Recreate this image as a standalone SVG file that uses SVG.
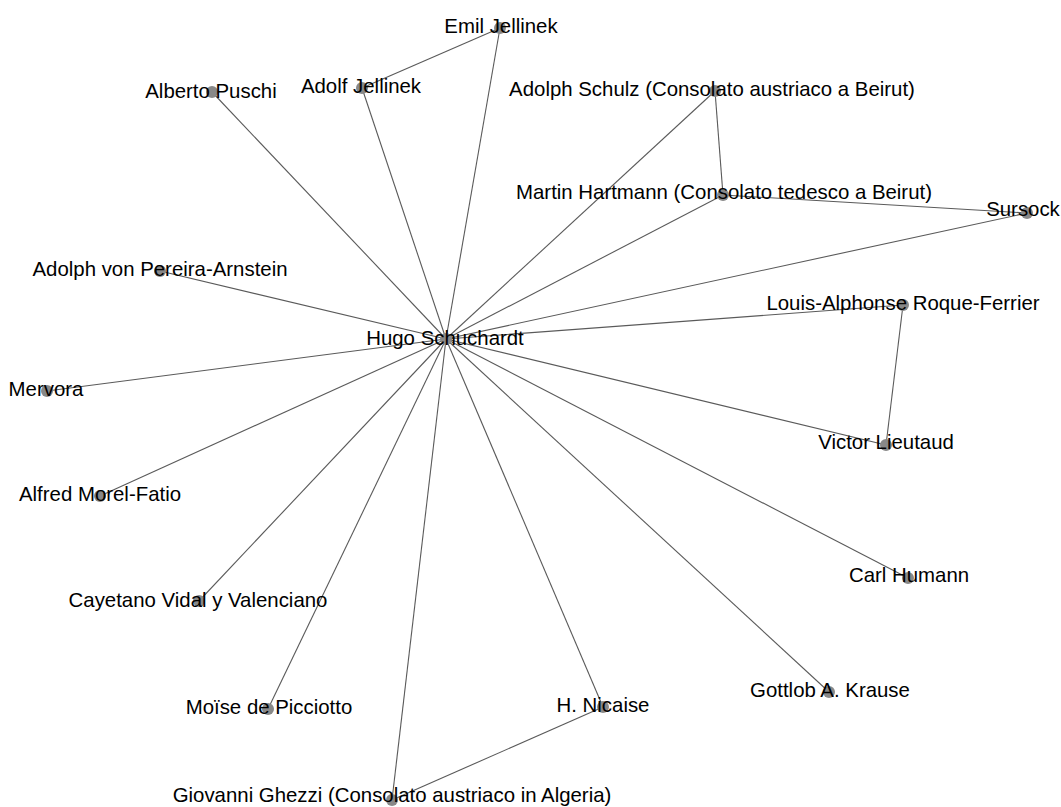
<svg xmlns="http://www.w3.org/2000/svg" width="1061" height="807" viewBox="0 0 1061 807">
<style>
.e{stroke:#5a5a5a;stroke-width:1.1;fill:none}
.n circle{fill:#888}
.n text{font-family:"Liberation Sans",Arial,sans-serif;font-size:20.4px;fill:#000;text-anchor:middle}
</style>
<rect width="1061" height="807" fill="#fff"/>
<g id="edges">
<line class="e" x1="446" y1="339" x2="500" y2="28"/>
<line class="e" x1="446" y1="339" x2="362" y2="88"/>
<line class="e" x1="446" y1="339" x2="212" y2="92"/>
<line class="e" x1="446" y1="339" x2="715" y2="91"/>
<line class="e" x1="446" y1="339" x2="723" y2="195"/>
<line class="e" x1="446" y1="339" x2="1027" y2="213"/>
<line class="e" x1="446" y1="339" x2="160" y2="271"/>
<line class="e" x1="446" y1="339" x2="903" y2="305"/>
<line class="e" x1="446" y1="339" x2="47" y2="391"/>
<line class="e" x1="446" y1="339" x2="886" y2="445"/>
<line class="e" x1="446" y1="339" x2="100" y2="496"/>
<line class="e" x1="446" y1="339" x2="199" y2="601"/>
<line class="e" x1="446" y1="339" x2="908" y2="578"/>
<line class="e" x1="446" y1="339" x2="268" y2="709"/>
<line class="e" x1="446" y1="339" x2="603" y2="707"/>
<line class="e" x1="446" y1="339" x2="829" y2="692"/>
<line class="e" x1="446" y1="339" x2="392" y2="800"/>
<line class="e" x1="500" y1="28" x2="362" y2="88"/>
<line class="e" x1="715" y1="91" x2="723" y2="195"/>
<line class="e" x1="723" y1="195" x2="1027" y2="213"/>
<line class="e" x1="903" y1="305" x2="886" y2="445"/>
<line class="e" x1="603" y1="707" x2="392" y2="800"/>
</g>
<g id="n-hugo" class="n"><circle cx="446" cy="339" r="6"/><text x="445" y="345">Hugo Schuchardt</text></g>
<g id="n-emil" class="n"><circle cx="500" cy="28" r="6"/><text x="501" y="33">Emil Jellinek</text></g>
<g id="n-adolf" class="n"><circle cx="362" cy="88" r="6"/><text x="361" y="93">Adolf Jellinek</text></g>
<g id="n-alberto" class="n"><circle cx="212" cy="92" r="6"/><text x="211" y="98">Alberto Puschi</text></g>
<g id="n-schulz" class="n"><circle cx="715" cy="91" r="6"/><text x="712" y="96">Adolph Schulz (Consolato austriaco a Beirut)</text></g>
<g id="n-hartmann" class="n"><circle cx="723" cy="195" r="6"/><text x="724" y="199">Martin Hartmann (Consolato tedesco a Beirut)</text></g>
<g id="n-sursock" class="n"><circle cx="1027" cy="213" r="6"/><text x="1023" y="216">Sursock</text></g>
<g id="n-pereira" class="n"><circle cx="160" cy="271" r="6"/><text x="160" y="276">Adolph von Pereira-Arnstein</text></g>
<g id="n-roque" class="n"><circle cx="903" cy="305" r="6"/><text x="903" y="310">Louis-Alphonse Roque-Ferrier</text></g>
<g id="n-mervora" class="n"><circle cx="47" cy="391" r="6"/><text x="46" y="396">Mervora</text></g>
<g id="n-lieutaud" class="n"><circle cx="886" cy="445" r="6"/><text x="886" y="449">Victor Lieutaud</text></g>
<g id="n-morel" class="n"><circle cx="100" cy="496" r="6"/><text x="100" y="501">Alfred Morel-Fatio</text></g>
<g id="n-vidal" class="n"><circle cx="199" cy="601" r="6"/><text x="198" y="607">Cayetano Vidal y Valenciano</text></g>
<g id="n-humann" class="n"><circle cx="908" cy="578" r="6"/><text x="909" y="582">Carl Humann</text></g>
<g id="n-picciotto" class="n"><circle cx="268" cy="709" r="6"/><text x="269" y="714">Moïse de Picciotto</text></g>
<g id="n-nicaise" class="n"><circle cx="603" cy="707" r="6"/><text x="603" y="712">H. Nicaise</text></g>
<g id="n-krause" class="n"><circle cx="829" cy="692" r="6"/><text x="830" y="697">Gottlob A. Krause</text></g>
<g id="n-ghezzi" class="n"><circle cx="392" cy="800" r="6"/><text x="392" y="802">Giovanni Ghezzi (Consolato austriaco in Algeria)</text></g>
</svg>
